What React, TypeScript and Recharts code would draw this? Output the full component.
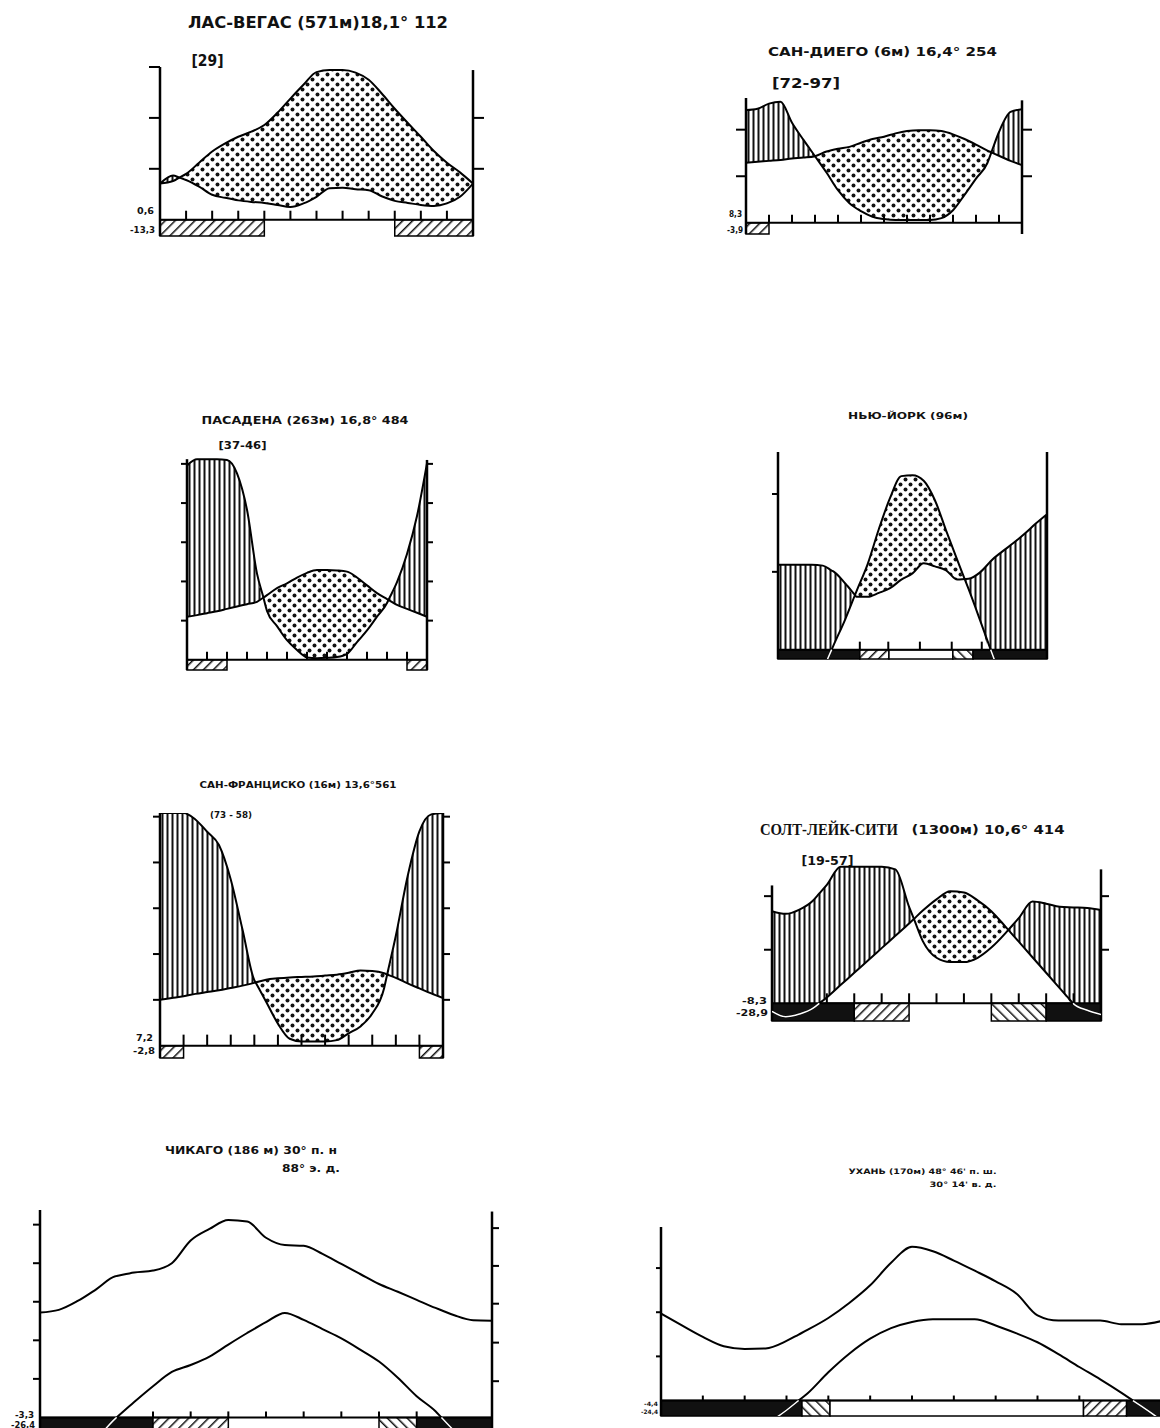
import React from 'react';
import { ComposedChart, Area, Line, XAxis, YAxis, ReferenceLine, ReferenceArea } from 'recharts';

// x positions (months from the left axis), half-month steps
const HALF_MONTHS = [0, 0.5, 1, 1.5, 2, 2.5, 3, 3.5, 4, 4.5, 5, 5.5, 6, 6.5, 7, 7.5, 8, 8.5, 9, 9.5, 10, 10.5, 11, 11.5, 12];
const MONTH_TICKS = [1, 2, 3, 4, 5, 6, 7, 8, 9, 10, 11];

// values in diagram units (10 units = 10 °C = 20 mm)
const LV_TEMP = [7.1, 7.6, 9, 11.2, 13.4, 15, 16.3, 17.3, 18.6, 21, 23.8, 26.5, 29, 29.4, 29.4, 28.9, 27.5, 24.8, 21.8, 19, 16.3, 13.5, 11.2, 9.3, 7.1];
const LV_PREC = [7.1, 8.7, 7.8, 6.5, 4.9, 4.3, 3.8, 3.5, 3.3, 2.9, 2.5, 3.2, 4.5, 6.2, 6.3, 6.0, 5.8, 4.6, 3.7, 3.3, 2.9, 2.7, 3.2, 4.5, 7.1];

const SD_TEMP = [12.9, 13.1, 13.3, 13.5, 13.8, 14.0, 14.3, 15.3, 15.9, 16.3, 17.2, 18.0, 18.5, 19.2, 19.7, 19.9, 19.9, 19.7, 19.0, 18.0, 16.8, 15.5, 14.4, 13.3, 12.4];
const SD_PREC = [24.2, 24.5, 25.6, 26.0, 21.5, 17.8, 14.3, 10.8, 7.0, 4.2, 2.5, 1.3, 0.8, 0.6, 0.6, 0.6, 0.6, 1.0, 2.7, 6.0, 9.5, 12.9, 19.5, 23.8, 24.4];

const PAS_TEMP = [11.0, 11.4, 11.9, 12.4, 13.0, 13.6, 14.2, 14.8, 16.5, 18.3, 19.5, 21.0, 22.2, 22.9, 22.9, 22.8, 22.5, 21.0, 19.0, 17.0, 15.5, 14.0, 13.0, 12.0, 11.0];
const PAS_PREC = [49.6, 51.2, 51.2, 51.2, 51.0, 47.6, 38.3, 22.0, 12.5, 8.6, 5.0, 2.5, 0.6, 0.4, 0.5, 0.7, 1.5, 4.5, 7.5, 11.0, 14.5, 19.8, 27.0, 36.7, 50.2];

const NY_TEMP = [-9, -9, -8, -6, -2.6, 0.7, 3.9, 7.5, 11.0, 15.5, 19.5, 22.3, 22.4, 21.7, 19.2, 15.3, 11.5, 7.8, 3.9, -0.1, -4, -8, -9, -9, -9];
const NY_PREC = [10.9, 10.9, 10.9, 10.9, 10.8, 10.0, 8.5, 6.8, 6.8, 7.3, 7.9, 9.0, 9.8, 11.1, 10.7, 10.2, 9.0, 9.1, 9.9, 11.4, 12.6, 13.7, 14.9, 16.2, 17.4];

const SF_TEMP = [10.0, 10.4, 10.8, 11.3, 11.7, 12.1, 12.6, 13.1, 13.7, 14.4, 14.7, 14.9, 15.0, 15.1, 15.3, 15.5, 15.9, 16.4, 16.3, 15.8, 14.8, 13.6, 12.5, 11.4, 10.4];
const SF_PREC = [50.8, 50.8, 50.8, 49.4, 46.7, 43.8, 36.3, 25.3, 14.3, 9.6, 4.8, 1.5, 0.9, 0.9, 0.9, 1.2, 2.7, 4.2, 7.0, 12.5, 24.0, 37.0, 46.8, 50.5, 50.8];

const SLC_TEMP = [-1.5, -2.5, -2.0, -0.9, 1.1, 3.4, 5.7, 8.0, 10.3, 12.6, 14.9, 17.3, 19.4, 20.9, 20.7, 19.2, 17.2, 14.4, 11.5, 8.6, 5.7, 2.8, -0.1, -1.3, -2.1];
const SLC_PREC = [17.2, 16.7, 17.5, 19.2, 22.1, 25.5, 25.5, 25.5, 25.5, 25.0, 18.0, 11.6, 8.5, 7.7, 7.7, 8.5, 10.4, 13.0, 15.9, 19.0, 18.6, 18.0, 17.9, 17.8, 17.4];

const CHI_TEMP = [-9, -9, -8, -5.3, -0.3, 4.0, 8.1, 11.8, 13.6, 15.8, 18.9, 21.9, 24.7, 27.1, 25.3, 22.9, 20.5, 17.6, 14.5, 10.3, 5.5, 1.6, -3.5, -8, -9];
const CHI_PREC = [27.2, 27.9, 30.2, 33.3, 36.6, 37.6, 38.1, 40.0, 45.9, 48.9, 51.2, 50.8, 46.6, 44.7, 44.5, 42.4, 39.8, 37.2, 34.6, 32.6, 30.5, 28.4, 26.5, 25.2, 25.1];

const WU_TEMP = [-9, -9, -9, -9, -9, -5.5, -2.2, 1.6, 6.4, 10.6, 14.0, 16.4, 17.8, 18.4, 18.4, 18.4, 17.0, 15.2, 13.2, 10.5, 7.6, 4.8, 1.8, -1.4, -4.7];
const WU_PREC = [19.7, 17.0, 14.4, 12.3, 11.7, 11.8, 13.5, 16.0, 18.7, 22.1, 26.1, 31.2, 34.8, 33.8, 31.7, 29.4, 27.0, 24.2, 19.3, 18.1, 18.1, 18.1, 17.3, 17.3, 18.1];

// frost band segments (month from, month to, kind)
type Kind = 'black' | 'fwd' | 'back' | 'white';
type Seg = { from: number; to: number; kind: Kind };
const LV_BAND: Seg[] = [{ from: 0, to: 4, kind: 'fwd' }, { from: 9, to: 12, kind: 'fwd' }];
const SD_BAND: Seg[] = [{ from: 0, to: 1, kind: 'fwd' }];
const PAS_BAND: Seg[] = [{ from: 0, to: 2, kind: 'fwd' }, { from: 11, to: 12, kind: 'fwd' }];
const NY_BAND: Seg[] = [
  { from: 0, to: 3.65, kind: 'black' }, { from: 3.65, to: 4.95, kind: 'fwd' }, { from: 4.95, to: 7.8, kind: 'white' },
  { from: 7.8, to: 8.7, kind: 'back' }, { from: 8.7, to: 12, kind: 'black' },
];
const SF_BAND: Seg[] = [{ from: 0, to: 1, kind: 'fwd' }, { from: 11, to: 12, kind: 'fwd' }];
const SLC_BAND: Seg[] = [
  { from: 0, to: 3, kind: 'black' }, { from: 3, to: 5, kind: 'fwd' }, { from: 8, to: 10, kind: 'back' }, { from: 10, to: 12, kind: 'black' },
];
const CHI_BAND: Seg[] = [
  { from: 0, to: 3, kind: 'black' }, { from: 3, to: 5, kind: 'fwd' }, { from: 9, to: 10, kind: 'back' }, { from: 10, to: 12, kind: 'black' },
];
const WU_BAND: Seg[] = [
  { from: 0, to: 3.37, kind: 'black' }, { from: 3.37, to: 4.04, kind: 'back' }, { from: 4.04, to: 10.1, kind: 'white' },
  { from: 10.1, to: 11.13, kind: 'fwd' }, { from: 11.13, to: 12, kind: 'black' },
];

const NY_TICKS = [3.65, 4.92, 6.33, 7.75, 9.09];
const SLC_TICKS = [2, 3, 4, 5, 6, 7, 8, 9, 10, 11];
const CHI_TICKS = [3, 4, 5, 6, 7, 8, 9, 10];
const WU_TICKS = [1, 2, 3, 4, 5, 6, 7, 8, 9, 10];

const BAND_FILL: Record<Kind, string> = { black: '#111', fwd: 'url(#hatchF)', back: 'url(#hatchB)', white: '#fff' };

type Cfg = {
  temp: number[]; prec: number[]; fill: boolean; band: Seg[]; ticks: number[];
  leftTicks: number[]; rightTicks: number[]; leftTop: number; rightTop: number | null;
  x0: number; x1: number; y0: number; y1: number; yMin: number; yMax: number; tickPx: number; sidePx: number;
};

const CHARTS: Cfg[] = [
  { temp: LV_TEMP, prec: LV_PREC, fill: true, band: LV_BAND, ticks: MONTH_TICKS, leftTicks: [10, 20, 30], rightTicks: [10, 20],
    leftTop: 30, rightTop: 29.4, x0: 160, x1: 473, y0: 67, y1: 236, yMin: -3.2, yMax: 30, tickPx: 9, sidePx: 11 },
  { temp: SD_TEMP, prec: SD_PREC, fill: true, band: SD_BAND, ticks: MONTH_TICKS, leftTicks: [10, 20], rightTicks: [10, 20],
    leftTop: 26.8, rightTop: 26.3, x0: 746, x1: 1022, y0: 98, y1: 234, yMin: -2.4, yMax: 26.8, tickPx: 8, sidePx: 10 },
  { temp: PAS_TEMP, prec: PAS_PREC, fill: true, band: PAS_BAND, ticks: MONTH_TICKS, leftTicks: [10, 20, 30, 40, 50], rightTicks: [10, 20, 30, 40, 50],
    leftTop: 51.2, rightTop: 51, x0: 187, x1: 427, y0: 458, y1: 670, yMin: -2.6, yMax: 51.5, tickPx: 8, sidePx: 6 },
  { temp: NY_TEMP, prec: NY_PREC, fill: true, band: NY_BAND, ticks: NY_TICKS, leftTicks: [10, 20], rightTicks: [],
    leftTop: 25.4, rightTop: 25.4, x0: 778, x1: 1047, y0: 452, y1: 659, yMin: -1.2, yMax: 25.4, tickPx: 8, sidePx: 6 },
  { temp: SF_TEMP, prec: SF_PREC, fill: true, band: SF_BAND, ticks: MONTH_TICKS, leftTicks: [10, 20, 30, 40, 50], rightTicks: [10, 20, 30, 40, 50],
    leftTop: 50.8, rightTop: 50.8, x0: 160, x1: 443, y0: 813, y1: 1058, yMin: -2.7, yMax: 50.8, tickPx: 11, sidePx: 7 },
  { temp: SLC_TEMP, prec: SLC_PREC, fill: true, band: SLC_BAND, ticks: SLC_TICKS, leftTicks: [10, 20], rightTicks: [10, 20],
    leftTop: 22, rightTop: 25, x0: 772, x1: 1101, y0: 864, y1: 1021, yMin: -3.3, yMax: 26, tickPx: 10, sidePx: 8 },
  { temp: CHI_TEMP, prec: CHI_PREC, fill: false, band: CHI_BAND, ticks: CHI_TICKS, leftTicks: [10, 20, 30, 40, 50], rightTicks: [9.4, 19.4, 29.5, 39.3, 49.1],
    leftTop: 53.8, rightTop: 53.4, x0: 40, x1: 492, y0: 1210, y1: 1429, yMin: -3, yMax: 53.8, tickPx: 6, sidePx: 7 },
  { temp: WU_TEMP, prec: WU_PREC, fill: false, band: WU_BAND, ticks: WU_TICKS, leftTicks: [10, 20, 30], rightTicks: [],
    leftTop: 39.3, rightTop: null, x0: 661, x1: 1163, y0: 1227, y1: 1416, yMin: -3.5, yMax: 39.3, tickPx: 5, sidePx: 5 },
];

type Row = { x: number; t: number; p: number; humid: [number, number]; arid: [number, number]; tNeg: number | null };

function mkRow(x: number, t: number, p: number): Row {
  const tc = Math.max(t, 0);
  return {
    x, t, p,
    humid: p >= t ? [tc, Math.max(p, tc)] : [tc, tc],
    arid: t > p ? [p, t] : [p, p],
    tNeg: t <= 1e-9 ? t : null,
  };
}

function buildRows(temp: number[], prec: number[]): Row[] {
  const rows: Row[] = [];
  for (let i = 0; i < HALF_MONTHS.length; i++) {
    const x = HALF_MONTHS[i], t = temp[i], p = prec[i];
    if (i > 0) {
      const xa = HALF_MONTHS[i - 1], ta = temp[i - 1], pa = prec[i - 1];
      const cuts: number[] = [];
      const d0 = ta - pa, d1 = t - p;
      if (d0 * d1 < 0) cuts.push(d0 / (d0 - d1));
      if (ta * t < 0) cuts.push(ta / (ta - t));
      cuts.sort((a, b) => a - b).forEach((f) => {
        rows.push(mkRow(xa + f * (x - xa), ta + f * (t - ta), pa + f * (p - pa)));
      });
    }
    rows.push(mkRow(x, t, p));
  }
  return rows;
}

const CURVE = 'monotone' as const;

function Diagram({ c }: { c: Cfg }) {
  const rows = buildRows(c.temp, c.prec);
  const W = c.x1 - c.x0 + 100;
  const H = c.y1 - c.y0 + 20;
  const unit = (c.yMax - c.yMin) / (c.y1 - c.y0);
  const tl = c.tickPx * unit;
  const side = c.sidePx * 12 / (c.x1 - c.x0);
  return (
    <div style={{ position: 'absolute', left: c.x0 - 50, top: c.y0 - 10 }}>
      <ComposedChart width={W} height={H} data={rows} margin={{ top: 10, right: 0, bottom: 10, left: 0 }}>
        <XAxis type="number" dataKey="x" domain={[0, 12]} hide allowDataOverflow />
        <YAxis yAxisId="l" width={50} domain={[c.yMin, c.yMax]} allowDataOverflow tick={false} axisLine={false} tickLine={false} />
        <YAxis yAxisId="r" orientation="right" width={50} domain={[c.yMin, c.yMax]} allowDataOverflow tick={false} axisLine={false} tickLine={false} />
        {c.band.map((s, i) => (
          <ReferenceArea key={'b' + i} yAxisId="l" x1={s.from} x2={s.to} y1={c.yMin} y2={0}
            fill={BAND_FILL[s.kind]} fillOpacity={1} stroke="#000" strokeWidth={1.5} ifOverflow="visible" />
        ))}
        {c.fill && (
          <Area yAxisId="l" type={CURVE} dataKey="humid" stroke="none" fill="url(#vlines)" fillOpacity={1}
            isAnimationActive={false} activeDot={false} />
        )}
        {c.fill && (
          <Area yAxisId="l" type={CURVE} dataKey="arid" stroke="none" fill="url(#dots)" fillOpacity={1}
            isAnimationActive={false} activeDot={false} />
        )}
        <ReferenceLine yAxisId="l" y={0} stroke="#000" strokeWidth={2} />
        <ReferenceLine yAxisId="l" segment={[{ x: 0, y: c.yMin }, { x: 0, y: c.leftTop }]} stroke="#000" strokeWidth={2.5} ifOverflow="visible" />
        {c.rightTop !== null && (
          <ReferenceLine yAxisId="l" segment={[{ x: 12, y: c.yMin }, { x: 12, y: c.rightTop }]} stroke="#000" strokeWidth={2.5} ifOverflow="visible" />
        )}
        {c.leftTicks.map((v) => (
          <ReferenceLine key={'lt' + v} yAxisId="l" segment={[{ x: 0, y: v }, { x: -side, y: v }]} stroke="#000" strokeWidth={2} ifOverflow="visible" />
        ))}
        {c.rightTicks.map((v) => (
          <ReferenceLine key={'rt' + v} yAxisId="l" segment={[{ x: 12, y: v }, { x: 12 + side, y: v }]} stroke="#000" strokeWidth={2} ifOverflow="visible" />
        ))}
        {c.ticks.map((m) => (
          <ReferenceLine key={'t' + m} yAxisId="l" segment={[{ x: m, y: 0 }, { x: m, y: tl }]} stroke="#000" strokeWidth={2} ifOverflow="visible" />
        ))}
        <Line yAxisId="l" type={CURVE} dataKey="p" stroke="#000" strokeWidth={2} dot={false} activeDot={false} isAnimationActive={false} />
        <Line yAxisId="l" type={CURVE} dataKey="t" stroke="#000" strokeWidth={2} dot={false} activeDot={false} isAnimationActive={false} />
        <Line yAxisId="l" type={CURVE} dataKey="tNeg" stroke="#fff" strokeWidth={1.5} dot={false} activeDot={false} isAnimationActive={false} />
      </ComposedChart>
    </div>
  );
}

// text: x = centre (or right edge when align 'r'), y = vertical centre, w = fitted width
type T = { text: string; x: number; y: number; size: number; w: number; align?: 'r'; serif?: boolean };
const TEXTS: T[] = [
  { text: 'ЛАС-ВЕГАС (571м)18,1°  112', x: 318, y: 22, size: 16, w: 260 },
  { text: '[29]', x: 207.5, y: 61, size: 15, w: 32 },
  { text: '0,6', x: 154, y: 210.5, size: 9, w: 17, align: 'r' },
  { text: '-13,3', x: 155, y: 230, size: 9, w: 25, align: 'r' },
  { text: 'САН-ДИЕГО (6м) 16,4°  254', x: 882.5, y: 51.5, size: 12, w: 229 },
  { text: '[72-97]', x: 806, y: 83, size: 14, w: 68 },
  { text: '8,3', x: 742, y: 214, size: 8, w: 13, align: 'r' },
  { text: '-3,9', x: 743, y: 230, size: 8, w: 16, align: 'r' },
  { text: 'ПАСАДЕНА  (263м) 16,8° 484', x: 305, y: 420, size: 11, w: 207 },
  { text: '[37-46]', x: 242.5, y: 445, size: 10.5, w: 48 },
  { text: 'НЬЮ-ЙОРК (96м)', x: 908, y: 415, size: 9.5, w: 120 },
  { text: 'САН-ФРАНЦИСКО (16м) 13,6°561', x: 298, y: 784.5, size: 8.5, w: 197 },
  { text: '(73 - 58)', x: 231, y: 815, size: 8.5, w: 42 },
  { text: '7,2', x: 153, y: 1038, size: 9, w: 17, align: 'r' },
  { text: '-2,8', x: 155, y: 1051, size: 9, w: 22, align: 'r' },
  { text: 'СОЛТ-ЛЕЙК-СИТИ', x: 829, y: 829, size: 16, w: 138, serif: true },
  { text: '(1300м) 10,6° 414', x: 988, y: 829, size: 13, w: 153 },
  { text: '[19-57]', x: 827.5, y: 860, size: 13, w: 52 },
  { text: '-8,3', x: 767, y: 1000.7, size: 9, w: 25, align: 'r' },
  { text: '-28,9', x: 768, y: 1012.5, size: 9, w: 32, align: 'r' },
  { text: 'ЧИКАГО (186 м) 30°  п. н', x: 251, y: 1150, size: 11, w: 172 },
  { text: '88°  э. д.', x: 311, y: 1168, size: 11, w: 58 },
  { text: '-3,3', x: 34, y: 1415, size: 8, w: 19, align: 'r' },
  { text: '-26,4', x: 35, y: 1425, size: 8, w: 24, align: 'r' },
  { text: "УХАНЬ (170м) 48°  46' п. ш.", x: 922.5, y: 1171, size: 7.5, w: 148 },
  { text: "30°  14' в. д.", x: 963, y: 1184, size: 7.5, w: 67 },
  { text: '-4,4', x: 658, y: 1403, size: 6, w: 14, align: 'r' },
  { text: '-24,4', x: 658, y: 1411, size: 6, w: 17, align: 'r' },
];

export default function App() {
  return (
    <div style={{ position: 'absolute', left: 0, top: 0, width: 1160, height: 1428, overflow: 'hidden', background: '#fff' }}>
      <svg width={0} height={0} style={{ position: 'absolute' }}>
        <defs>
          <pattern id="vlines" width={5} height={10} patternUnits="userSpaceOnUse">
            <rect width={5} height={10} fill="#fff" />
            <line x1={2.5} y1={0} x2={2.5} y2={10} stroke="#111" strokeWidth={2} />
          </pattern>
          <pattern id="dots" width={10} height={10} patternUnits="userSpaceOnUse">
            <rect width={10} height={10} fill="#fff" />
            <circle cx={2.5} cy={2.5} r={2} fill="#111" />
            <circle cx={7.5} cy={7.5} r={2} fill="#111" />
          </pattern>
          <pattern id="hatchF" width={7} height={7} patternUnits="userSpaceOnUse" patternTransform="rotate(45)">
            <rect width={7} height={7} fill="#fff" />
            <line x1={0} y1={0} x2={0} y2={7} stroke="#111" strokeWidth={3} />
          </pattern>
          <pattern id="hatchB" width={7} height={7} patternUnits="userSpaceOnUse" patternTransform="rotate(-45)">
            <rect width={7} height={7} fill="#fff" />
            <line x1={0} y1={0} x2={0} y2={7} stroke="#111" strokeWidth={3} />
          </pattern>
        </defs>
      </svg>
      {CHARTS.map((c, i) => <Diagram key={i} c={c} />)}
      <svg width={1160} height={1428} style={{ position: 'absolute', left: 0, top: 0, pointerEvents: 'none' }}>
        {TEXTS.map((t, i) => (
          <text key={i} x={t.x} y={t.y} textAnchor={t.align === 'r' ? 'end' : 'middle'}
            dominantBaseline="central" fontSize={t.size} fontWeight={700} fill="#111"
            fontFamily={t.serif ? '"Liberation Serif", "DejaVu Serif", serif' : '"DejaVu Sans", "Liberation Sans", sans-serif'}
            textLength={t.w} lengthAdjust="spacingAndGlyphs">{t.text}</text>
        ))}
      </svg>
    </div>
  );
}
